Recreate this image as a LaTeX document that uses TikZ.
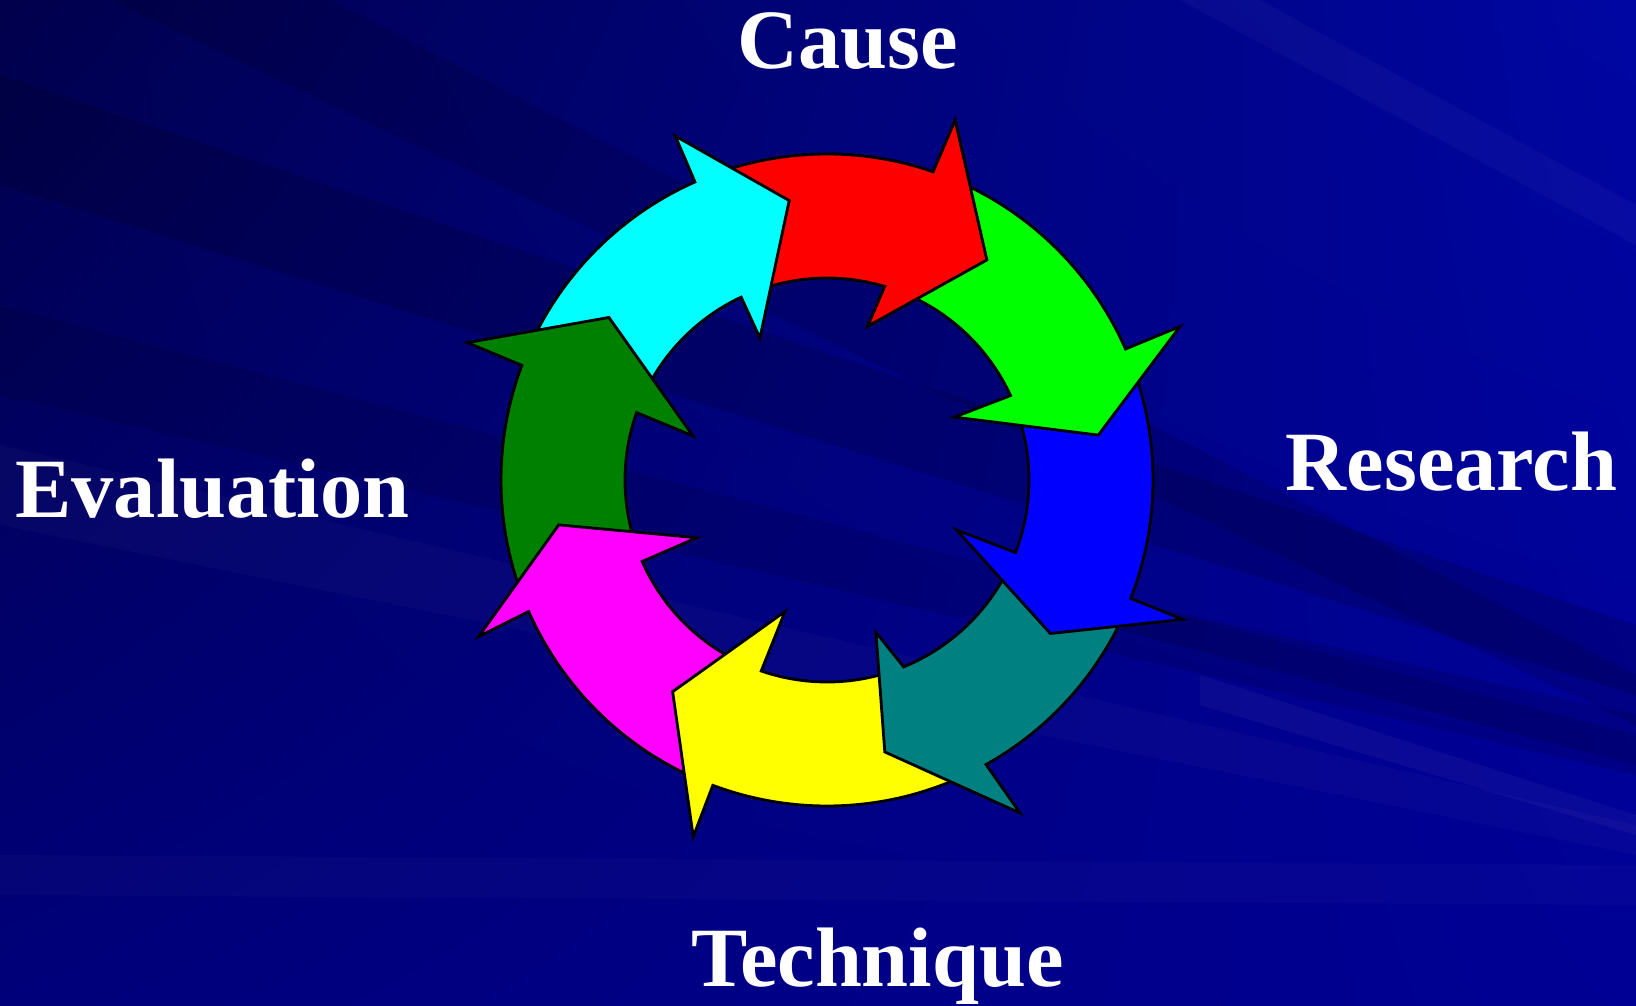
\documentclass[tikz,border=0pt]{standalone}
\usepackage{fontspec}
\setmainfont{Liberation Serif}
\usetikzlibrary{shadings}
\definecolor{bgul}{HTML}{00004C}
\definecolor{bgur}{HTML}{0006A2}
\definecolor{bgll}{HTML}{00007A}
\definecolor{bglr}{HTML}{000094}
\definecolor{arrred}{HTML}{FF0000}
\definecolor{arrgreen}{HTML}{00FF00}
\definecolor{arrblue}{HTML}{0000FF}
\definecolor{arrteal}{HTML}{008080}
\definecolor{arryellow}{HTML}{FFFF00}
\definecolor{arrmagenta}{HTML}{FF00FF}
\definecolor{arrdkgreen}{HTML}{008000}
\definecolor{arrcyan}{HTML}{00FFFF}
\tikzset{
  phase/.style={font=\fontsize{24}{28}\selectfont\bfseries, text=white,
    anchor=base, inner sep=0pt},
  cyclearrow/.style={draw=black, line width=0.8pt, line join=miter},
  darkstreak/.style={fill=black, fill opacity=#1, draw=none},
  lightstreak/.style={fill=white, fill opacity=#1, draw=none},
}
% ring radii, outer and inner
\newcommand{\Rout}{326}
\newcommand{\Rin}{202}
% #1 colour, #2 tail angle, #3 outer notch angle, #4 outer corner,
% #5 tip, #6 inner corner, #7 inner notch angle
\newcommand{\cyclearrow}[7]{%
  \filldraw[cyclearrow, fill=#1] (#2:\Rout)
    arc[start angle=#2, end angle=#3, radius=\Rout]
    -- (#4) -- (#5) -- (#6) -- (#7:\Rin)
    arc[start angle=#7, end angle=#2, radius=\Rin] -- cycle;}

\begin{document}
\begin{tikzpicture}[x=0.01cm,y=0.01cm]

% ---- Background ------------------------------------------------------------
\useasboundingbox (0,0) rectangle (1636,1005);
\shade[upper left=bgul, upper right=bgur, lower left=bgll, lower right=bglr]
  (0,0) rectangle (1636,1005);
\fill[darkstreak=0.14] (0,930) -- (0,820) -- (1636,310) -- (1636,380) -- cycle;
\fill[darkstreak=0.10] (0,700) -- (0,610) -- (1636,230) -- (1636,270) -- cycle;
\fill[darkstreak=0.12] (330,1005) -- (110,1005) -- (1636,280) -- (1636,330) -- cycle;
\fill[darkstreak=0.12] (1100,410) -- (1100,380) -- (1636,240) -- (1636,290) -- cycle;
\fill[lightstreak=0.025] (0,560) -- (0,480) -- (1636,150) -- (1636,180) -- cycle;
\fill[lightstreak=0.04] (1200,330) -- (1200,300) -- (1636,170) -- (1636,190) -- cycle;
\fill[lightstreak=0.03] (1180,1005) -- (1260,1005) -- (1636,800) -- (1636,760) -- cycle;
\fill[lightstreak=0.02] (0,150) -- (0,110) -- (1636,100) -- (1636,140) -- cycle;

% ---- Labels ----------------------------------------------------------------
\node[phase] (cause) at (848,936.7) {Cause};
\node[phase] (research) at (1451.5,514.3) {Research};
\node[phase] (technique) at (877.5,19) {Technique};
\node[phase] (evaluation) at (212.4,487.5) {Evaluation};

% ---- Ring of arrows --------------------------------------------------------
\begin{scope}[shift={(827,525)}]
  \cyclearrow{arrred}{109.7}{71.0}{70.4:382}{54.0:272}{75.2:159}{73.4}
  \cyclearrow{arrcyan}{155.3}{113.9}{113.8:376}{97.7:282}{115.3:157}{115.15}
  \cyclearrow{arrdkgreen}{-158.5}{-200.6}{-200.9:385}{-216.7:272}{-198.2:141}{-199.5}
  \cyclearrow{arrmagenta}{-114.1}{-156.2}{-155.8:382}{-170.5:272}{-156.1:142.5}{-156.2}
  \cyclearrow{arryellow}{-66}{-110.5}{-110.55:381}{-126.1:262}{-107.7:138}{-109.0}
  \cyclearrow{arrteal}{-22.5}{-60.8}{-59.9:385}{-78.0:278}{-72.2:160}{-67.7}
  \cyclearrow{arrblue}{21.4}{-21.3}{-21.4:382}{-34.5:271}{-21.1:139}{-21.05}
  \cyclearrow{arrgreen}{66}{23.7}{23.5:385}{9.4:275}{26.3:142}{24.7}
  % red head again, over the green tail
  \begin{scope}
    \clip (0,0) -- (40:600) -- (65:700) -- (90:600) -- cycle;
    \cyclearrow{arrred}{109.7}{71.0}{70.4:382}{54.0:272}{75.2:159}{73.4}
  \end{scope}
\end{scope}

\end{tikzpicture}
\end{document}
